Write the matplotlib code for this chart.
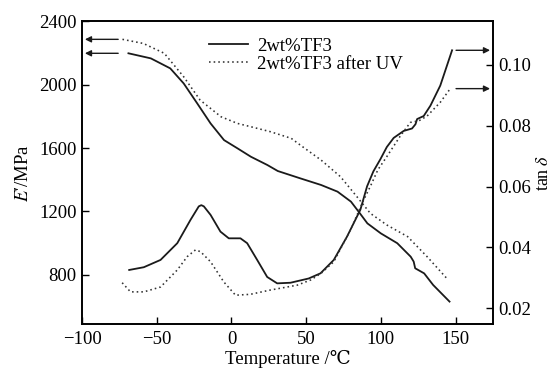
import numpy as np
import matplotlib.pyplot as plt

plt.rcParams['font.family'] = ['Liberation Serif', 'DejaVu Serif']
plt.rcParams['mathtext.fontset'] = 'stix'

# storage modulus E' (MPa)
t_e = [-69, -54, -41, -32, -23, -14, -5, 4, 13, 24, 31, 46, 60, 71, 80, 86, 91,
       100, 111, 120, 122, 123, 129, 135, 146]
e_solid = [2197, 2165, 2102, 2007, 1882, 1755, 1650, 1598, 1545, 1493, 1455, 1409,
           1367, 1325, 1262, 1188, 1125, 1062, 1000, 915, 884, 842, 810, 737, 632]

t_e_uv = [-73, -59, -45, -32, -21, -7, 4, 13, 26, 40, 46, 60, 73, 84, 93, 104,
          118, 131, 144]
e_uv = [2285, 2259, 2197, 2049, 1902, 1797, 1755, 1734, 1703, 1661, 1619, 1524,
        1419, 1293, 1188, 1115, 1041, 915, 780]

# loss factor tan delta
t_tan = [-68.5, -58.7, -47.5, -36.3, -27.4, -21.9, -20.2, -18.5, -14, -7.4, -1.8, 6,
         10.5, 17.2, 23.9, 30.6, 39.5, 51.7, 59.6, 68.5, 77.4, 86.3, 90.8, 95, 99.7,
         104, 108.6, 115.3, 120.9, 123.2, 124.3, 128.7, 133.2, 139.8, 144.3, 147.7]
tan_solid = [0.0326, 0.0335, 0.0359, 0.0414, 0.0491, 0.0535, 0.0539, 0.0535, 0.0507,
             0.0452, 0.0430, 0.0430, 0.0414, 0.0359, 0.0303, 0.0282, 0.0284, 0.0298,
             0.0315, 0.0359, 0.0436, 0.0524, 0.0601, 0.0650, 0.0690, 0.0730, 0.0760,
             0.0783, 0.0791, 0.0805, 0.0822, 0.0832, 0.0866, 0.0932, 0.0998, 0.1048]

t_tan_uv = [-73.2, -67.6, -58.7, -47.5, -36.3, -29.6, -24.1, -20.7, -14, -5.2, 2.7,
            12.7, 26, 44, 53, 60, 68.5, 79.7, 88.6, 93, 98, 104.2, 113, 119.8, 125.4,
            131, 139.8, 146.5]
tan_uv = [0.0284, 0.0254, 0.0254, 0.0270, 0.0326, 0.0370, 0.0392, 0.0386, 0.0353,
          0.0287, 0.0243, 0.0246, 0.0260, 0.0276, 0.0293, 0.0315, 0.0353, 0.0458,
          0.0557, 0.0601, 0.0655, 0.0700, 0.0766, 0.0811, 0.0816, 0.0832, 0.0877,
          0.0922]

x_ticks = [-100, -50, 0, 50, 100, 150]
x_labels = ['\u2212100', '\u221250', '0', '50', '100', '150']
e_ticks = [800, 1200, 1600, 2000, 2400]
tan_ticks = [0.02, 0.04, 0.06, 0.08, 0.10]
tan_labels = ['0.02', '0.04', '0.06', '0.08', '0.10']

fig = plt.figure(figsize=(5.55, 3.7), dpi=100)
ax = fig.add_axes([0.148, 0.124, 0.740, 0.819])
ax2 = ax.twinx()

ink = '#1a1a1a'
dots = (0, (1, 1.9))
ax.plot(t_e, e_solid, color=ink, lw=1.3, label='2wt%TF3')
ax.plot(t_e_uv, e_uv, color='#333333', lw=1.15, ls=dots, label='2wt%TF3 after UV')
ax2.plot(t_tan, tan_solid, color=ink, lw=1.3)
ax2.plot(t_tan_uv, tan_uv, color='#333333', lw=1.15, ls=dots)

ax.set_xlim(-100, 175)
ax.set_ylim(490, 2400)
ax2.set_ylim(0.0148, 0.1144)

# arrows pointing to the axis each curve belongs to
arrow = dict(arrowstyle='-|>', color=ink, lw=1.0, mutation_scale=9)
for yv in [e_solid[0], e_uv[0]]:
    ax.annotate('', xy=(-100, yv), xytext=(-74, yv), arrowprops=arrow)
for yv in [tan_solid[-1], tan_uv[-1]]:
    ax2.annotate('', xy=(175, yv), xytext=(148.5, yv), arrowprops=arrow)

ax.set_xticks(x_ticks)
ax.set_xticklabels(x_labels)
ax.set_yticks(e_ticks)
ax2.set_yticks(tan_ticks)
ax2.set_yticklabels(tan_labels)

for a in (ax, ax2):
    a.tick_params(direction='in', length=5, width=1, labelsize=13.5)
    for s in a.spines.values():
        s.set_linewidth(1.2)
ax.tick_params(axis='x', pad=5)
ax.tick_params(axis='y', pad=4)
ax2.tick_params(axis='y', pad=4)

ax.set_xlabel('Temperature /\u2103', fontsize=13.5, labelpad=1)
ax.set_ylabel("$E$\u2032/MPa", fontsize=13.5, labelpad=5)
ax2.set_ylabel('tan\u2009$\\delta$', fontsize=13, labelpad=3)

ax.legend(loc='upper left', bbox_to_anchor=(0.29, 0.97), frameon=False,
          fontsize=13.5, handlelength=2.1, handletextpad=0.5, labelspacing=0.05,
          borderaxespad=0)

fig.savefig('out.png', dpi=100)
